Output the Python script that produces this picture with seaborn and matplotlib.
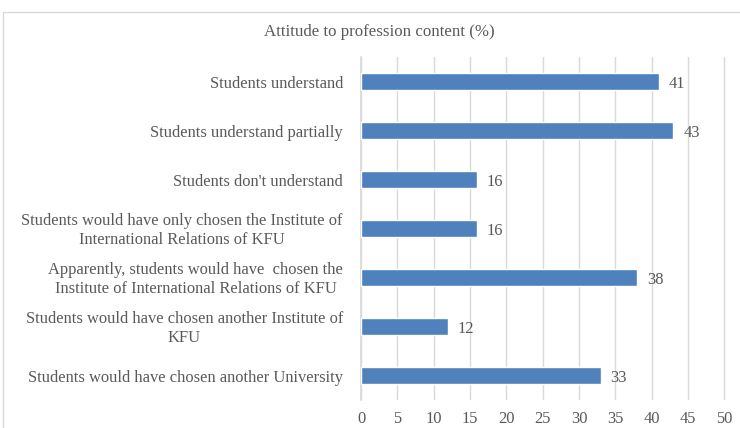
import pandas as pd
import seaborn as sns
import matplotlib.pyplot as plt
from matplotlib.patches import Rectangle

# Survey categories and shares (%)
categories = [
    "Students understand",
    "Students understand partially",
    "Students don't understand",
    "Students would have only chosen the Institute of\nInternational Relations of KFU",
    "Apparently, students would have  chosen the\nInstitute of International Relations of KFU",
    "Students would have chosen another Institute of\nKFU",
    "Students would have chosen another University",
]
values = [41, 43, 16, 16, 38, 12, 33]
x_ticks = [0, 5, 10, 15, 20, 25, 30, 35, 40, 45, 50]

df = pd.DataFrame({"category": categories, "value": values})

sns.set_theme(style="white")
plt.rcParams["font.family"] = ["Liberation Serif", "DejaVu Serif"]

text_color = "#595959"
grid_color = "#d9d9d9"
bar_color = "#4f81bd"
fs = 11.9

fig = plt.figure(figsize=(7.4, 4.28), dpi=100)
ax = fig.add_axes([361 / 740, 1 - 400 / 428, (728 - 361) / 740, 343 / 428])

sns.barplot(data=df, x="value", y="category", color=bar_color,
            width=0.34, saturation=1, ax=ax, zorder=3)

# value labels
for bar, v in zip(ax.patches, values):
    ax.annotate(str(v), (bar.get_width(), bar.get_y() + bar.get_height() / 2),
                xytext=(7, -1.5), textcoords="offset points", va="center",
                ha="left", fontsize=fs, color=text_color)

ax.set_xlim(0, 50.5)
ax.set_xticks(x_ticks)
ax.xaxis.grid(True, color=grid_color, linewidth=1, zorder=0)
ax.set_axisbelow(True)
ax.tick_params(axis="x", labelsize=fs, colors=text_color, length=0, pad=8)
ax.tick_params(axis="y", length=0)

# category labels: right aligned, multi-line centred
ax.set_yticklabels([])
for i, cat in enumerate(categories):
    ax.annotate(cat, (0, i), xycoords=ax.get_yaxis_transform(),
                xytext=(-13, -1.5), textcoords="offset points",
                ha="right", va="center", multialignment="center",
                fontsize=fs, color=text_color)
ax.set_xlabel("")
ax.set_ylabel("")

for side in ["top", "right", "bottom"]:
    ax.spines[side].set_visible(False)
ax.spines["left"].set_color(grid_color)
ax.spines["left"].set_linewidth(1.2)

fig.text(0.512, 1 - 32 / 428, "Attitude to profession content (%)",
         ha="center", va="center", fontsize=12.2, color=text_color)

# chart area border
fig.patches.append(Rectangle((3 / 740, -0.05), 1.0, 1 - 12 / 428 + 0.05,
                             transform=fig.transFigure, fill=False,
                             edgecolor=grid_color, linewidth=1))

fig.savefig("out.png", dpi=100)
